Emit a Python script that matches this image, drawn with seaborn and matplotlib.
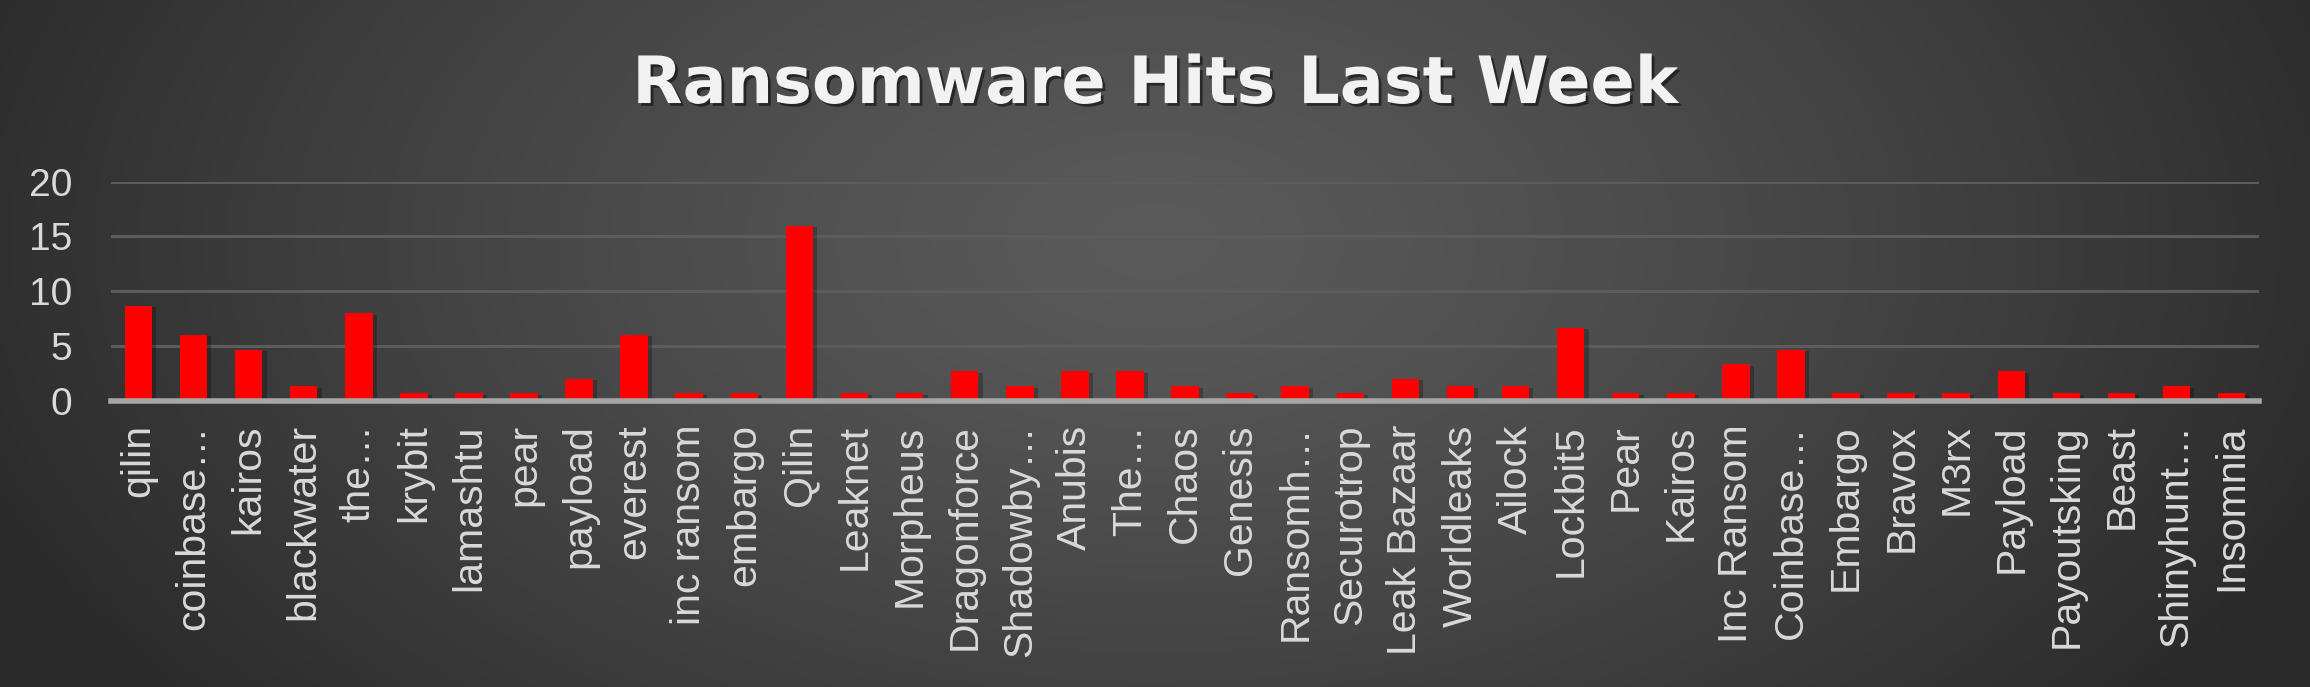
import numpy as np
import pandas as pd
import matplotlib
matplotlib.use("Agg")
import matplotlib.pyplot as plt
import matplotlib.patheffects as pe
import seaborn as sns

# groups and weekly hit counts
groups = [
    "qilin", "coinbase…", "kairos", "blackwater", "the…", "krybit",
    "lamashtu", "pear", "payload", "everest", "inc ransom", "embargo",
    "Qilin", "Leaknet", "Morpheus", "Dragonforce", "Shadowby…", "Anubis",
    "The…", "Chaos", "Genesis", "Ransomh…", "Securotrop", "Leak Bazaar",
    "Worldleaks", "Ailock", "Lockbit5", "Pear", "Kairos", "Inc Ransom",
    "Coinbase…", "Embargo", "Bravox", "M3rx", "Payload", "Payoutsking",
    "Beast", "Shinyhunt…", "Insomnia",
]
hits = [
    8.67, 6.0, 4.67, 1.33, 8.0, 0.67,
    0.67, 0.67, 2.0, 6.0, 0.67, 0.67,
    16.0, 0.67, 0.67, 2.67, 1.33, 2.67,
    2.67, 1.33, 0.67, 1.33, 0.67, 2.0,
    1.33, 1.33, 6.67, 0.67, 0.67, 3.33,
    4.67, 0.67, 0.67, 0.67, 2.67, 0.67,
    0.67, 1.33, 0.67,
]
y_ticks = [0, 5, 10, 15, 20]
title = "Ransomware Hits Last Week"

df = pd.DataFrame({"group": groups, "hits": hits})

sns.set_theme(style="white")
label_font = ["Liberation Sans", "DejaVu Sans"]

fig = plt.figure(figsize=(23.1, 6.87), dpi=100)

# dark radial gradient background
bg = fig.add_axes([0, 0, 1, 1])
gx, gy = np.meshgrid(np.linspace(0, 1, 600), np.linspace(0, 1, 200))
r = np.sqrt(((gx - 0.5) / 0.55) ** 2 + ((gy - 0.35) / 1.1) ** 2)
shade = (0x5a - (0x5a - 0x2a) * np.clip(r, 0, 1) ** 1.3) / 255.0
bg.imshow(np.dstack([shade, shade, shade]), extent=[0, 1, 0, 1],
          aspect="auto", origin="upper")
bg.set_axis_off()

ax = fig.add_axes([0.048, 0.4167, 0.930, 0.3188])
ax.patch.set_alpha(0)

sns.barplot(data=df, x="group", y="hits", order=groups, color="#ff0000",
            saturation=1, width=0.5, linewidth=0, edgecolor="none",
            ax=ax, zorder=3)

# soft drop shadow like the office chart
for bar in ax.patches:
    bar.set_path_effects([
        pe.SimplePatchShadow(offset=(3, -1), shadow_rgbFace="black", alpha=0.25),
        pe.Normal(),
    ])

ax.set_ylim(0, 20)
ax.set_yticks(y_ticks)
for v in y_ticks[1:]:
    ax.axhline(v, color="#5c5c5c", lw=2.2, zorder=1)

for side in ["top", "right", "left"]:
    ax.spines[side].set_visible(False)
ax.spines["bottom"].set_color("#a6a6a6")
ax.spines["bottom"].set_linewidth(4)
ax.spines["bottom"].set_zorder(4)

ax.set_xlabel("")
ax.set_ylabel("")
ax.tick_params(axis="x", length=0, pad=17, labelsize=29.5, labelcolor="#d9d9d9",
               labelrotation=90)
ax.tick_params(axis="y", length=0, pad=28, labelsize=28, labelcolor="#d9d9d9")
for lab in ax.get_xticklabels() + ax.get_yticklabels():
    lab.set_fontfamily(label_font)

fig.text(0.5, 0.85, title, ha="center", va="baseline", fontsize=47,
         fontweight="bold", color="#f2f2f2", family=["DejaVu Sans"],
         path_effects=[pe.withSimplePatchShadow(offset=(2, -2),
                                                shadow_rgbFace="black",
                                                alpha=0.5)])

fig.savefig("out.png", dpi=100)
